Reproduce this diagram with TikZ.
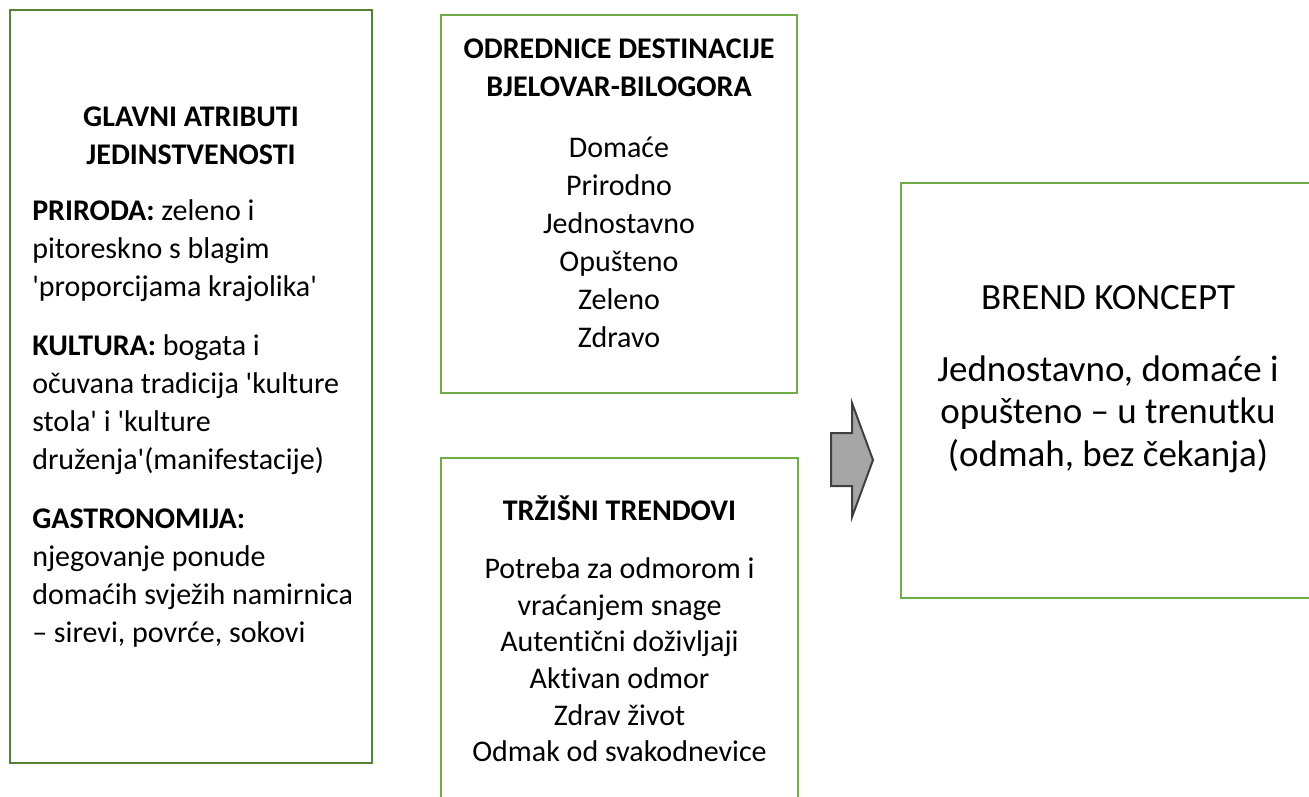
\documentclass[tikz,border=0pt]{standalone}
\usepackage{fontspec}
\setmainfont{Carlito}[Ligatures={TeXOff,NoCommon}]
\usetikzlibrary{positioning,fit,calc}
\definecolor{boxgreen}{HTML}{70AD47}
\definecolor{darkgreen}{HTML}{548235}
\definecolor{arrowgray}{HTML}{A6A6A6}
\definecolor{arrowline}{HTML}{404040}

\begin{document}
\begin{tikzpicture}
[x=0.75pt, y=-0.75pt,
box/.style = {draw=boxgreen, line width=2pt, inner sep=0pt, rectangle},
txt/.style = {inner sep=0pt, align=center, font=\fontsize{22.5}{28.5}\selectfont},
bigtxt/.style = {inner sep=0pt, align=center, font=\fontsize{27.75}{32}\selectfont},
arrowshape/.style = {draw=arrowline, fill=arrowgray, line width=1.5pt, line join=miter}]
\clip (0,0) rectangle (1309,796);

% boxes
\coordinate (A1) at (10,10);
\coordinate (A2) at (372,763);
\node [box, draw=darkgreen, fit=(A1)(A2)](attr){};

\coordinate (D1) at (441,15);
\coordinate (D2) at (797,393);
\node [box, fit=(D1)(D2)](dest){};

\coordinate (T1) at (441,458);
\coordinate (T2) at (798,830);
\node [box, fit=(T1)(T2)](trend){};

\coordinate (B1) at (901,183);
\coordinate (B2) at (1316,598);
\node [box, fit=(B1)(B2)](brend){};

% texts
\node [txt, anchor=north] (attrhead) at (191,107)
  {\textbf{GLAVNI ATRIBUTI}\\\textbf{JEDINSTVENOSTI}};
\node [txt, align=left, anchor=north west] (attrbody) at (32,199)
  {\textbf{PRIRODA:} zeleno i\\ pitoreskno s blagim\\ 'proporcijama krajolika'\\[16pt]
   \textbf{KULTURA:} bogata i\\ očuvana tradicija 'kulture\\ stola' i 'kulture\\ druženja'(manifestacije)\\[16pt]
   \textbf{GASTRONOMIJA:}\\ njegovanje ponude\\ domaćih svježih namirnica\\ – sirevi, povrće, sokovi};

\node [txt, anchor=north] (desttxt) at ($(dest.north)+(0,25)$)
  {\textbf{ODREDNICE DESTINACIJE}\\\textbf{BJELOVAR-BILOGORA}\\[17pt]
   Domaće\\ Prirodno\\ Jednostavno\\ Opušteno\\ Zeleno\\ Zdravo};

\node [txt, font=\fontsize{22.5}{27.5}\selectfont, anchor=north] (trendtxt) at ($(trend.north)+(0,39)$)
  {\textbf{TRŽIŠNI TRENDOVI}\\[16pt]
   Potreba za odmorom i\\ vraćanjem snage\\ Autentični doživljaji\\ Aktivan odmor\\ Zdrav život\\ Odmak od svakodnevice};

\node [bigtxt, anchor=north] (brendtxt) at (1108,285)
  {BREND KONCEPT\\[22pt] Jednostavno, domaće i\\ opušteno – u trenutku\\ (odmah, bez čekanja)};

% arrow
\draw [arrowshape] (831,433) -- (852,433) -- (852,403) -- (873,460)
  -- (852,517) -- (852,486) -- (831,486) -- cycle;
\end{tikzpicture}
\end{document}
